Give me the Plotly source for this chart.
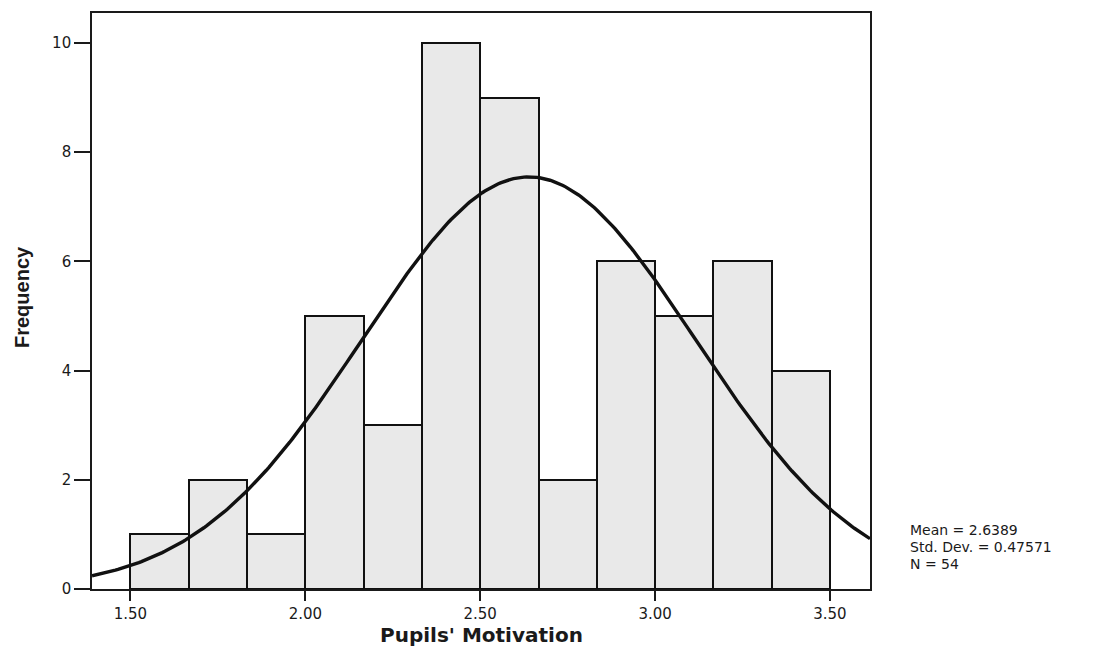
import numpy as np
import plotly.graph_objects as go

# Data
bin_start = 1.5
bin_width = 1.0 / 6.0
counts = [1, 2, 1, 5, 3, 10, 9, 2, 6, 5, 6, 4]
mean = 2.6389
std_dev = 0.47571
n = 54
x_tickvals = [1.5, 2.0, 2.5, 3.0, 3.5]
x_ticktext = ["1.50", "2.00", "2.50", "3.00", "3.50"]
y_tickvals = [0, 2, 4, 6, 8, 10]
y_ticktext = ["0", "2", "4", "6", "8", "10"]
stats_lines = [f"Mean = {mean:.4f}", f"Std. Dev. = {std_dev:.5f}", f"N = {n}"]

x_range = [1.39, 3.6145]
y_range = [0, 10.55]

centers = [bin_start + (i + 0.5) * bin_width for i in range(len(counts))]

# Fitted normal curve (SPSS style), scaled to counts
xc = np.linspace(x_range[0], x_range[1], 300)
yc = n * bin_width / (std_dev * np.sqrt(2 * np.pi)) * np.exp(-0.5 * ((xc - mean) / std_dev) ** 2)

fig = go.Figure()
fig.add_trace(go.Bar(
    x=centers, y=counts, width=bin_width,
    marker=dict(color="#e9e9e9", line=dict(color="#111111", width=2)),
    hoverinfo="skip", showlegend=False,
))
fig.add_trace(go.Scatter(
    x=xc, y=yc, mode="lines",
    line=dict(color="#111111", width=3.4),
    hoverinfo="skip", showlegend=False,
))

tick_font = dict(family="DejaVu Sans, sans-serif", size=15, color="#1a1a1a")
ink = "#1a1a1a"

annotations = [
    dict(xref="paper", yref="paper", x=0.5, y=0, yshift=-46,
         xanchor="center", yanchor="middle", showarrow=False,
         text="<b>Pupils' Motivation</b>",
         font=dict(family="DejaVu Sans, sans-serif", size=20, color=ink)),
    dict(xref="paper", yref="paper", x=0, y=0.5, xshift=-70, yshift=4,
         xanchor="center", yanchor="middle", showarrow=False, textangle=-90,
         text="<b>Frequency</b>",
         font=dict(family="Liberation Sans Narrow, Liberation Sans, sans-serif", size=20, color=ink)),
]
for i, line in enumerate(stats_lines):
    annotations.append(dict(
        xref="paper", yref="paper", x=1.0, y=0.0,
        xshift=38, yshift=59 - i * 17, xanchor="left", yanchor="middle",
        align="left", showarrow=False, text=line,
        font=dict(family="DejaVu Sans, sans-serif", size=14, color=ink),
    ))

fig.update_layout(
    width=1094, height=654,
    margin=dict(l=84, r=232, t=3, b=73),
    paper_bgcolor="white", plot_bgcolor="white",
    bargap=0,
    xaxis=dict(
        range=x_range, tickvals=x_tickvals, ticktext=x_ticktext,
        showgrid=False, zeroline=False,
        showline=True, mirror=True, linecolor=ink, linewidth=1.6,
        ticks="outside", ticklen=10, tickwidth=2, tickcolor=ink,
        tickfont=tick_font,
    ),
    yaxis=dict(
        range=y_range, tickvals=y_tickvals, ticktext=y_ticktext,
        showgrid=False, zeroline=False,
        showline=True, mirror=True, linecolor=ink, linewidth=1.6,
        ticks="outside", ticklen=16, tickwidth=1.6, tickcolor=ink,
        tickfont=tick_font,
    ),
    annotations=annotations,
)

fig.write_html("out.html")
